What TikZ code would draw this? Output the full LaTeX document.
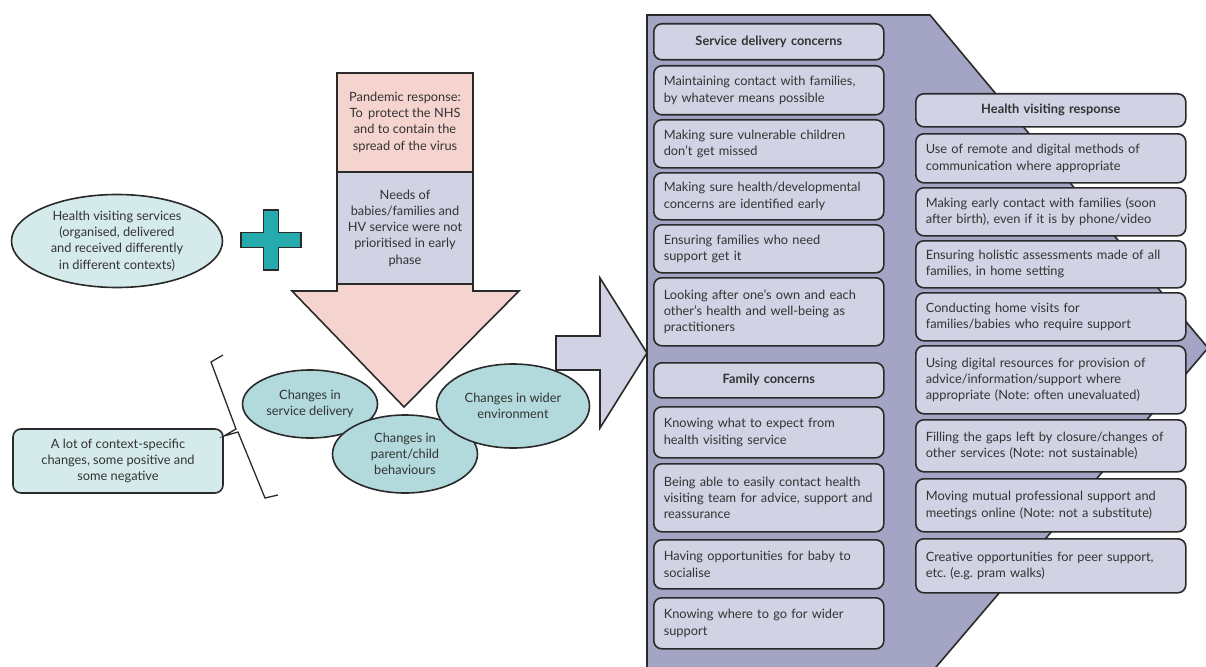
\documentclass[tikz,border=0pt]{standalone}
\usepackage{fontspec}
\setmainfont{Lato}
\usetikzlibrary{shapes.geometric}
\frenchspacing

\definecolor{inktext}{HTML}{333333}
\definecolor{inkline}{HTML}{2A2A2A}
\definecolor{pinkfill}{HTML}{F5D4CF}
\definecolor{lilacfill}{HTML}{D1D2E3}
\definecolor{purplefill}{HTML}{A4A5C4}
\definecolor{palefill}{HTML}{D5EAEB}
\definecolor{tealfill}{HTML}{B2D9DC}
\definecolor{crossfill}{HTML}{25ABAB}

\begin{document}
\begin{tikzpicture}[x=1pt, y=-1pt, line width=1.6pt, draw=inkline, text=inktext,
        font=\fontsize{12.8}{16.3}\selectfont,
        item/.style={draw=inkline, fill=lilacfill, rounded corners=8pt, anchor=north west, align=left, inner xsep=10pt, inner ysep=2pt},
        leftitem/.style={item, text width=210pt},
        rightitem/.style={item, text width=250pt},
        oval/.style={ellipse, draw=inkline, fill=tealfill, inner sep=0pt, align=center}]
        \clip (0,0) rectangle (1206,666);

        % big panel and the arrow into it
        \draw[fill=purplefill] (647,15) -- (930,15) -- (1208,348) -- (925,680) -- (647,680) -- cycle;
        \draw[fill=lilacfill] (556,336) -- (600,336) -- (600,278) -- (647,353) -- (600,428) -- (600,370) -- (556,370) -- cycle;

        % left side
        \node[oval, fill=palefill, minimum width=211pt, minimum height=93pt] (hvs) at (117,241) {Health visiting services\\(organised, delivered\\and received differently\\in different contexts)};
        \draw[fill=crossfill] (263.5,210) -- (278.5,210) -- (278.5,232.5) -- (301,232.5) -- (301,247.5) -- (278.5,247.5) -- (278.5,270) -- (263.5,270) -- (263.5,247.5) -- (241,247.5) -- (241,232.5) -- (263.5,232.5) -- cycle;

        \draw[fill=pinkfill] (337,73) -- (473,73) -- (473,291) -- (519,291) -- (404,407) -- (292,291) -- (337,291) -- cycle;
        \draw[fill=lilacfill] (337,172) rectangle (473,284);
        \node[align=center] (pan) at (405,122) {Pandemic response:\\To\, protect the NHS\\and to contain the\\spread of the virus};
        \node[align=center] (needs) at (405,228) {Needs of\\babies/families and\\HV service were not\\prioritised in early\\phase};

        \node[oval, minimum width=135pt, minimum height=68pt] (chsd) at (310,404) {Changes in\\service delivery};
        \node[oval, minimum width=145pt, minimum height=78pt] (chpc) at (405,454) {Changes in\\parent/child\\behaviours};
        \node[oval, minimum width=153pt, minimum height=84pt] (chwe) at (513,406) {Changes in wider\\environment};

        \node[draw=inkline, fill=palefill, rounded corners=8pt, minimum width=210pt, minimum height=64pt, align=center] (ctx) at (118,461) {A lot of context-specific\\changes, some positive and\\some negative};
        \coordinate (tip) at (224,436);
        \draw[line width=1.3pt] (223,355) -- (211,362) -- (236,429) -- (tip) -- (238,432) -- (265,498) -- (278,495);

        % service delivery concerns
        \node[leftitem, minimum height=36pt] (sd0) at (653,23) {\parbox{210pt}{\centering\bfseries Service delivery concerns}};
        \node[leftitem, minimum height=49pt] (sd1) at (653,65) {Maintaining contact with families,\\by whatever means possible};
        \node[leftitem, minimum height=48pt] (sd2) at (653,119) {Making sure vulnerable children\\don’t get missed};
        \node[leftitem, minimum height=47pt] (sd3) at (653,172) {Making sure health/developmental\\concerns are identified early};
        \node[leftitem, minimum height=48pt] (sd4) at (653,224) {Ensuring families who need\\support get it};
        \node[leftitem, minimum height=68pt] (sd5) at (653,277) {Looking after one’s own and each\\other’s health and well-being as\\practitioners};

        % family concerns
        \node[leftitem, minimum height=35pt] (fc0) at (653,362) {\parbox{210pt}{\centering\bfseries Family concerns}};
        \node[leftitem, minimum height=51pt] (fc1) at (653,406) {Knowing what to expect from\\health visiting service};
        \node[leftitem, minimum height=68pt] (fc2) at (653,463) {Being able to easily contact health\\visiting team for advice, support and\\reassurance};
        \node[leftitem, minimum height=49pt] (fc3) at (653,539) {Having opportunities for baby to\\socialise};
        \node[leftitem, minimum height=51pt] (fc4) at (653,597) {Knowing where to go for wider\\support};

        % health visiting response
        \node[rightitem, minimum height=33pt] (hv0) at (915,93) {\parbox{250pt}{\centering\bfseries Health visiting response}};
        \node[rightitem, minimum height=49pt] (hv1) at (915,133) {Use of remote and digital methods of\\communication where appropriate};
        \node[rightitem, minimum height=48pt] (hv2) at (915,187) {Making early contact with families (soon\\after birth), even if it is by phone/video};
        \node[rightitem, minimum height=47pt] (hv3) at (915,240) {Ensuring holistic assessments made of all\\families, in home setting};
        \node[rightitem, minimum height=48pt] (hv4) at (915,292) {Conducting home visits for\\families/babies who require support};
        \node[rightitem, minimum height=68pt] (hv5) at (915,345) {Using digital resources for provision of\\advice/information/support where\\appropriate (Note: often unevaluated)};
        \node[rightitem, minimum height=52pt] (hv6) at (915,419) {Filling the gaps left by closure/changes of\\other services (Note: not sustainable)};
        \node[rightitem, minimum height=53pt] (hv7) at (915,478) {Moving mutual professional support and\\meetings online (Note: not a substitute)};
        \node[rightitem, minimum height=54pt] (hv8) at (915,538) {Creative opportunities for peer support,\\etc. (e.g. pram walks)};
    \end{tikzpicture}
\end{document}
